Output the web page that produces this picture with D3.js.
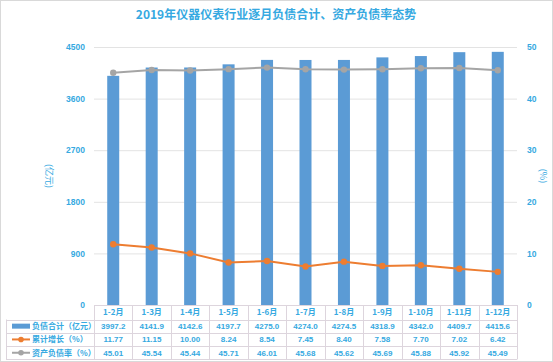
<!DOCTYPE html>
<html>
<head>
<meta charset="utf-8">
<script src="https://cdn.jsdelivr.net/npm/d3@7"></script>
<style>
  body { margin: 0; background: #fff; }
  svg { display: block; font-family: "Noto Sans CJK SC", "DejaVu Sans", sans-serif; }
</style>
</head>
<body>
<svg id="chart" width="553" height="362"></svg>
<script>
const months = ["1-2月", "1-3月", "1-4月", "1-5月", "1-6月", "1-7月", "1-8月", "1-9月", "1-10月", "1-11月", "1-12月"]
const debtTotal = [3997.2, 4141.9, 4142.6, 4197.7, 4275.0, 4274.0, 4274.5, 4318.9, 4342.0, 4409.7, 4415.6]
const growth = [11.77, 11.15, 10.00, 8.24, 8.54, 7.45, 8.40, 7.58, 7.70, 7.02, 6.42]
const debtRatio = [45.01, 45.54, 45.44, 45.71, 46.01, 45.68, 45.62, 45.69, 45.88, 45.92, 45.49]
const leftTicks = [0, 900, 1800, 2700, 3600, 4500]
const rightTicks = [0, 10, 20, 30, 40, 50]

const blue = "#5B9BD5", orange = "#ED7D31", gray = "#A5A5A5", txt = "#36A9E1"
const numFont = "Liberation Sans, Arial, sans-serif"

const svg = d3.select("#chart")
const plot = { left: 94, right: 517, top: 47, bottom: 305 }

// outer frame
svg.append("rect").attr("x", 0.5).attr("y", 0.5).attr("width", 552).attr("height", 361)
    .style("fill", "#fff").style("stroke", "#D9D9D9")

svg.append("text")
    .attr("x", 276).attr("y", 19)
    .attr("text-anchor", "middle")
    .style("font-size", "12px").style("font-weight", "bold")
    .style("fill", txt)
    .text("2019年仪器仪表行业逐月负债合计、资产负债率态势")

const x = d3.scaleBand().domain(months).range([plot.left, plot.right])
const yL = d3.scaleLinear().domain([0, 4500]).range([plot.bottom, plot.top])
const yR = d3.scaleLinear().domain([0, 50]).range([plot.bottom, plot.top])

// gridlines
svg.append("g").selectAll("line").data(leftTicks.slice(1)).join("line")
    .attr("x1", plot.left).attr("x2", plot.right)
    .attr("y1", d => yL(d) + 0.5).attr("y2", d => yL(d) + 0.5)
    .style("stroke", "#E3E3E3")

// axes
const axL = svg.append("g").attr("transform", `translate(${plot.left - 9},0)`)
    .call(d3.axisLeft(yL).tickValues(leftTicks).tickFormat(d3.format("d")).tickSize(0).tickPadding(0))
axL.select(".domain").remove()
axL.selectAll("text").style("fill", txt).style("font-size", "8.5px").style("font-weight", "bold")
    .style("font-family", numFont)

const axR = svg.append("g").attr("transform", `translate(${plot.right + 10},0)`)
    .call(d3.axisRight(yR).tickValues(rightTicks).tickSize(0).tickPadding(0))
axR.select(".domain").remove()
axR.selectAll("text").style("fill", txt).style("font-size", "8.5px").style("font-weight", "bold")
    .style("font-family", numFont)

svg.append("text").attr("transform", "translate(46,176) rotate(90)")
    .attr("text-anchor", "middle").style("font-size", "9px").style("fill", txt).text("(亿元)")
svg.append("text").attr("transform", "translate(540,176) rotate(90)")
    .attr("text-anchor", "middle").style("font-size", "9px").style("fill", txt).text("(%)")

// bars
const bw = 12
svg.append("g").selectAll("rect").data(debtTotal).join("rect")
    .attr("x", (d, i) => x(months[i]) + x.bandwidth() / 2 - bw / 2)
    .attr("width", bw)
    .attr("y", d => yL(d))
    .attr("height", d => plot.bottom - yL(d))
    .style("fill", blue)

// lines
function drawLine(data, color) {
    const line = d3.line().x((d, i) => x(months[i]) + x.bandwidth() / 2).y(d => yR(d))
    svg.append("path").datum(data).attr("d", line)
        .style("fill", "none").style("stroke", color).style("stroke-width", 2)
    svg.append("g").selectAll("circle").data(data).join("circle")
        .attr("cx", (d, i) => x(months[i]) + x.bandwidth() / 2)
        .attr("cy", d => yR(d)).attr("r", 3.2)
        .style("fill", color)
}
drawLine(growth, orange)
drawLine(debtRatio, gray)

// data table
const rows = [
    { label: "负债合计（亿元）", values: debtTotal.map(d => d.toFixed(1)), color: blue, type: "bar" },
    { label: "累计增长（%）", values: growth.map(d => d.toFixed(2)), color: orange, type: "line" },
    { label: "资产负债率（%）", values: debtRatio.map(d => d.toFixed(2)), color: gray, type: "line" }
]
const rowTop = 305, rowH = 13.3, headH = 14.5, tableLeft = 6
const tbl = svg.append("g")
const lineColor = "#DDD5DD"
months.forEach(m => {
    tbl.append("text").attr("x", x(m) + x.bandwidth() / 2).attr("y", rowTop + headH / 2 + 3)
        .attr("text-anchor", "middle").style("font-size", "8px").style("font-weight", "bold")
        .style("fill", txt).text(m)
})
rows.forEach((r, ri) => {
    const yc = rowTop + headH + ri * rowH + rowH / 2
    r.values.forEach((v, i) => {
        tbl.append("text").attr("x", x(months[i]) + x.bandwidth() / 2).attr("y", yc + 3)
            .attr("text-anchor", "middle").style("font-size", "8px").style("font-weight", "bold")
            .style("font-family", numFont).style("fill", txt).text(v)
    })
    if (r.type == "bar") {
        tbl.append("rect").attr("x", 12).attr("y", yc - 2.5).attr("width", 18).attr("height", 5).style("fill", r.color)
    } else {
        tbl.append("line").attr("x1", 12).attr("x2", 30).attr("y1", yc).attr("y2", yc)
            .style("stroke", r.color).style("stroke-width", 2)
        tbl.append("circle").attr("cx", 21).attr("cy", yc).attr("r", 2.8).style("fill", r.color)
    }
    tbl.append("text").attr("x", 32).attr("y", yc + 3).style("font-size", "8px").style("font-weight", "bold")
        .style("fill", txt).text(r.label)
})
const tableBottom = rowTop + headH + rows.length * rowH
const hLines = [rowTop, rowTop + headH, rowTop + headH + rowH, rowTop + headH + 2 * rowH, tableBottom]
hLines.forEach((yy, k) => {
    tbl.append("line").attr("x1", k == 0 ? plot.left : tableLeft).attr("x2", plot.right)
        .attr("y1", Math.round(yy) + 0.5).attr("y2", Math.round(yy) + 0.5).style("stroke", lineColor)
})
months.concat([null]).forEach((m, i) => {
    const xx = i < months.length ? x(m) : plot.right
    tbl.append("line").attr("x1", Math.round(xx) + 0.5).attr("x2", Math.round(xx) + 0.5)
        .attr("y1", rowTop).attr("y2", tableBottom).style("stroke", lineColor)
})
tbl.append("line").attr("x1", tableLeft + 0.5).attr("x2", tableLeft + 0.5)
    .attr("y1", rowTop + headH).attr("y2", tableBottom).style("stroke", lineColor)
</script>
</body>
</html>
